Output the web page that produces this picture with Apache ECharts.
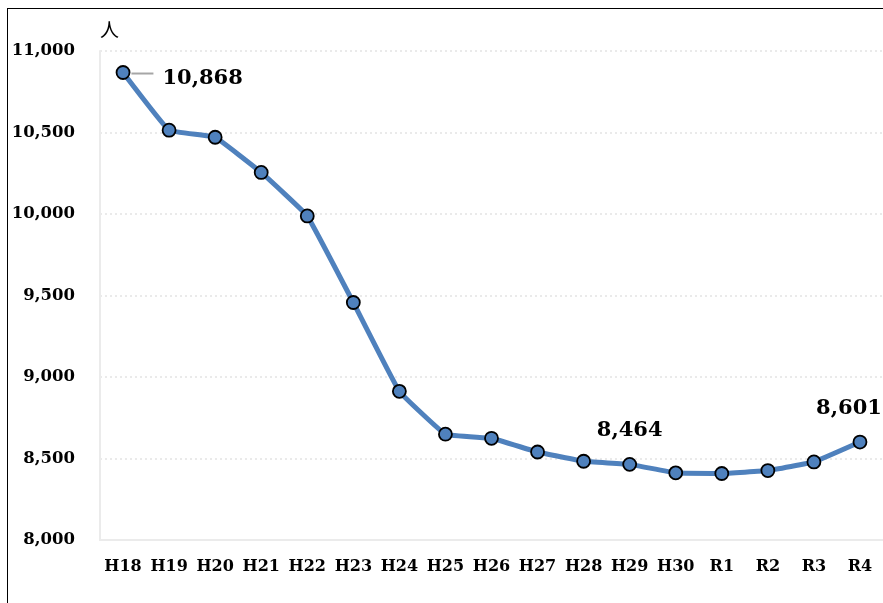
<!DOCTYPE html>
<html>
<head>
<meta charset="utf-8">
<script src="https://cdn.jsdelivr.net/npm/echarts@6/dist/echarts.min.js"></script>
<style>
  html, body { margin: 0; padding: 0; background: #fff; overflow: hidden; }
  #frame { position: absolute; left: 7px; top: 8px; width: 900px; height: 700px; border: 1.5px solid #000; box-sizing: border-box; }
  #chart { position: absolute; left: 0; top: 0; width: 883px; height: 603px; }
</style>
</head>
<body>
<div id="frame"></div>
<div id="chart"></div>
<script>
// Fiscal years (Heisei / Reiwa)
const years = ['H18','H19','H20','H21','H22','H23','H24','H25','H26','H27','H28','H29','H30','R1','R2','R3','R4'];
// Headcount per year
const people = [10868, 10514, 10471, 10255, 9988, 9457, 8912, 8649, 8624, 8540, 8483, 8464, 8412, 8408, 8426, 8479, 8601];
// Years whose value is written on the chart
const labelled = ['H18', 'H29', 'R4'];
const yTicks = { min: 8000, max: 11000, step: 500 };

const serif = '"DejaVu Serif", "Liberation Serif", serif';
const fmt = v => v.toLocaleString('en-US');

const seriesData = people.map((v, i) => {
  const item = { value: v };
  if (!labelled.includes(years[i])) return item;
  if (i === 0) {
    // first value sits to the right with a short grey leader
    item.label = {
      show: true, position: 'right', distance: 1, offset: [0, 1],
      formatter: p => '{ln|}{gap|}{v|' + fmt(p.value) + '}',
      rich: {
        ln: { width: 22, height: 2, backgroundColor: '#a6a6a6', verticalAlign: 'middle' },
        gap: { width: 9 },
        v: { color: '#000', fontFamily: serif, fontWeight: 'bold', fontSize: 21, lineHeight: 26, padding: [10, 0, 0, 0] }
      }
    };
  } else {
    item.label = {
      show: true, position: 'top', distance: 16,
      offset: i === people.length - 1 ? [-11, 0] : [0, 0]
    };
  }
  return item;
});

const chart = echarts.init(document.getElementById('chart'), null, { renderer: 'canvas' });
chart.setOption({
  animation: false,
  grid: { left: 100, top: 51, width: 785, height: 489, containLabel: false },
  xAxis: {
    type: 'category',
    data: years,
    boundaryGap: true,
    axisLine: { lineStyle: { color: '#ebebeb', width: 2 } },
    axisTick: { show: false },
    axisLabel: { color: '#000', fontFamily: serif, fontWeight: 'bold', fontSize: 16, margin: 19, interval: 0 }
  },
  yAxis: {
    type: 'value',
    min: yTicks.min,
    max: yTicks.max,
    interval: yTicks.step,
    name: '人',
    nameLocation: 'end',
    nameGap: 12,
    nameTextStyle: { color: '#000', fontFamily: '"Noto Sans CJK JP", sans-serif', fontSize: 19, align: 'left' },
    axisLine: { show: true, lineStyle: { color: '#ebebeb', width: 2 } },
    axisTick: { show: false },
    splitLine: { lineStyle: { color: '#e3e3e3', type: [2, 3], width: 1.5 } },
    axisLabel: {
      color: '#000', fontFamily: serif, fontWeight: 'bold', fontSize: 16.5, margin: 25,
      formatter: fmt
    }
  },
  series: [{
    type: 'line',
    data: seriesData,
    smooth: 0.08,
    symbol: 'circle',
    symbolSize: 13,
    lineStyle: { color: '#4f81bd', width: 5 },
    itemStyle: { color: '#4f81bd', borderColor: '#000', borderWidth: 1.8 },
    label: {
      show: false,
      color: '#000',
      fontFamily: serif,
      fontWeight: 'bold',
      fontSize: 21,
      formatter: p => fmt(p.value)
    }
  }]
});
</script>
</body>
</html>
